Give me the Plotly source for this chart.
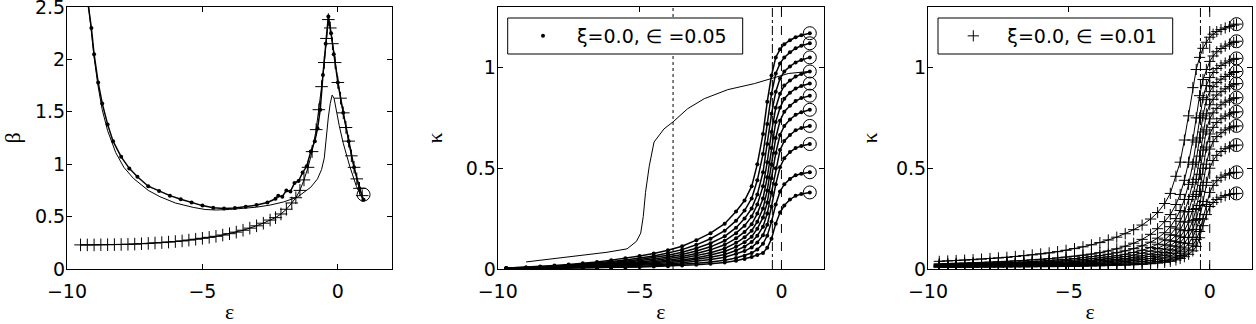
import plotly.graph_objects as go

# ---- left panel: beta against epsilon ----
EPS_DOTS = [-9.25, -9.1, -9.0, -8.85, -8.7, -8.5, -8.3, -8.0, -7.7, -7.4, -7.0, -6.6, -6.2,
            -5.8, -5.4, -5.0, -4.6, -4.2, -3.8, -3.4, -3.0, -2.6, -2.3, -2.2, -2.05, -1.9,
            -1.75, -1.6, -1.45, -1.3, -1.15, -1.0, -0.85, -0.75, -0.65, -0.55, -0.45, -0.35,
            -0.25, -0.15, 0.0, 0.2, 0.4, 0.6, 0.8, 0.95]
BETA_DOTS = [2.58, 2.3, 2.05, 1.78, 1.58, 1.38, 1.22, 1.07, 0.96, 0.88, 0.79, 0.745, 0.70,
             0.665, 0.635, 0.605, 0.585, 0.578, 0.583, 0.593, 0.61, 0.635, 0.67, 0.70, 0.69, 0.75,
             0.74, 0.82, 0.84, 0.92, 0.98, 1.12, 1.22, 1.34, 1.52, 1.85, 2.15, 2.41,
             2.25, 2.05, 1.78, 1.49, 1.22, 0.97, 0.77, 0.66]

EPS_SOLID = [-9.22, -9.1, -9.0, -8.85, -8.7, -8.5, -8.2, -7.9, -7.55, -7.0, -6.57, -6.0, -5.34,
             -4.9, -4.48, -4.0, -3.5, -3.0, -2.5, -2.0, -1.5, -1.0, -0.75, -0.6, -0.5, -0.42,
             -0.35, -0.28, -0.21, -0.14, -0.05, 0.05, 0.2, 0.44, 0.69, 0.93]
BETA_SOLID = [2.55, 2.25, 2.02, 1.74, 1.52, 1.32, 1.11, 0.97, 0.865, 0.75, 0.69, 0.63, 0.588,
              0.568, 0.563, 0.568, 0.579, 0.59, 0.61, 0.64, 0.685, 0.78, 0.86, 0.95, 1.06, 1.28,
              1.45, 1.58, 1.66, 1.63, 1.5, 1.37, 1.2, 0.98, 0.785, 0.66]

EPS_PLUS = [-9.5, -9.25, -9.0, -8.75, -8.5, -8.25, -8.0, -7.75, -7.5, -7.25, -7.0, -6.75, -6.5,
            -6.25, -6.0, -5.75, -5.5, -5.25, -5.0, -4.75, -4.5, -4.25, -4.0, -3.75, -3.5, -3.25,
            -3.0, -2.75, -2.5, -2.3, -2.1, -1.9, -1.7, -1.55, -1.4, -1.25, -1.1, -0.95, -0.8,
            -0.7, -0.6, -0.5, -0.42, -0.35, -0.28, -0.2, -0.1, 0.0, 0.1, 0.2, 0.3, 0.4, 0.5,
            0.6, 0.7, 0.8, 0.9]
BETA_PLUS = [0.23, 0.23, 0.23, 0.231, 0.232, 0.233, 0.234, 0.236, 0.238, 0.241, 0.244, 0.248, 0.252,
             0.257, 0.262, 0.268, 0.276, 0.284, 0.293, 0.302, 0.312, 0.324, 0.337, 0.352, 0.37, 0.39,
             0.412, 0.437, 0.467, 0.49, 0.525, 0.57, 0.63, 0.68, 0.75, 0.85, 0.97, 1.12, 1.33,
             1.52, 1.74, 1.97, 2.2, 2.38, 2.3, 2.15, 1.97, 1.78, 1.63, 1.49, 1.35, 1.22, 1.08,
             0.97, 0.86, 0.77, 0.70]

END_EPS_1 = [0.95]
END_BETA_1 = [0.71]

# ---- middle panel: kappa, xi=0.0, eps=0.05 (dots) ----
EPS_GRID_2 = [-9.7, -9.0, -8.5, -8.0, -7.5, -7.0, -6.5, -6.0, -5.5, -5.0, -4.5, -4.0, -3.5, -3.0,
              -2.5, -2.0, -1.6, -1.3, -1.05, -0.85, -0.65, -0.5, -0.35, -0.2, -0.05, 0.1, 0.3,
              0.5, 0.7, 1.0]
KAPPA_2 = [
    [0.004, 0.008, 0.012, 0.017, 0.022, 0.028, 0.035, 0.044, 0.053, 0.064, 0.077, 0.093, 0.113, 0.143,
     0.178, 0.225, 0.285, 0.34, 0.41, 0.52, 0.67, 0.83, 0.96, 1.05, 1.09, 1.115, 1.135, 1.15, 1.16, 1.17],
    [0.004, 0.007, 0.01, 0.014, 0.019, 0.024, 0.03, 0.037, 0.045, 0.054, 0.065, 0.079, 0.096, 0.12,
     0.15, 0.19, 0.24, 0.29, 0.35, 0.44, 0.57, 0.72, 0.87, 0.97, 1.02, 1.05, 1.075, 1.095, 1.108, 1.12],
    [0.004, 0.006, 0.009, 0.012, 0.016, 0.021, 0.026, 0.032, 0.039, 0.047, 0.056, 0.068, 0.083, 0.103,
     0.128, 0.162, 0.205, 0.25, 0.3, 0.37, 0.48, 0.62, 0.77, 0.88, 0.945, 0.98, 1.005, 1.025, 1.037, 1.05],
    [0.003, 0.005, 0.008, 0.011, 0.014, 0.018, 0.023, 0.028, 0.034, 0.041, 0.049, 0.059, 0.072, 0.089,
     0.11, 0.14, 0.178, 0.215, 0.26, 0.32, 0.41, 0.53, 0.68, 0.8, 0.87, 0.91, 0.935, 0.955, 0.968, 0.98],
    [0.003, 0.005, 0.007, 0.009, 0.012, 0.016, 0.02, 0.024, 0.029, 0.035, 0.042, 0.051, 0.062, 0.077,
     0.095, 0.12, 0.152, 0.184, 0.222, 0.275, 0.35, 0.455, 0.6, 0.73, 0.8, 0.845, 0.875, 0.895, 0.908, 0.92],
    [0.003, 0.004, 0.006, 0.008, 0.011, 0.014, 0.017, 0.021, 0.025, 0.03, 0.036, 0.044, 0.053, 0.066,
     0.081, 0.102, 0.13, 0.157, 0.19, 0.235, 0.3, 0.39, 0.52, 0.65, 0.735, 0.78, 0.81, 0.833, 0.848, 0.86],
    [0.003, 0.004, 0.005, 0.007, 0.009, 0.012, 0.015, 0.018, 0.021, 0.026, 0.031, 0.037, 0.045, 0.056,
     0.069, 0.087, 0.11, 0.133, 0.16, 0.2, 0.255, 0.33, 0.45, 0.575, 0.665, 0.71, 0.742, 0.765, 0.778, 0.79],
    [0.002, 0.003, 0.005, 0.006, 0.008, 0.01, 0.012, 0.015, 0.018, 0.022, 0.026, 0.031, 0.038, 0.047,
     0.058, 0.072, 0.092, 0.111, 0.134, 0.165, 0.21, 0.275, 0.38, 0.5, 0.59, 0.635, 0.665, 0.688, 0.7, 0.71],
    [0.002, 0.003, 0.004, 0.005, 0.006, 0.008, 0.01, 0.012, 0.015, 0.018, 0.021, 0.025, 0.031, 0.038,
     0.047, 0.058, 0.074, 0.089, 0.107, 0.132, 0.168, 0.22, 0.31, 0.42, 0.505, 0.55, 0.58, 0.6, 0.61, 0.62],
    [0.002, 0.002, 0.003, 0.004, 0.005, 0.006, 0.007, 0.009, 0.011, 0.013, 0.016, 0.019, 0.023, 0.028,
     0.035, 0.043, 0.055, 0.066, 0.079, 0.097, 0.125, 0.165, 0.235, 0.32, 0.385, 0.42, 0.447, 0.465, 0.473, 0.48],
    [0.001, 0.002, 0.002, 0.003, 0.004, 0.005, 0.006, 0.007, 0.008, 0.01, 0.012, 0.014, 0.017, 0.021,
     0.026, 0.032, 0.041, 0.05, 0.06, 0.07, 0.08, 0.105, 0.15, 0.225, 0.28, 0.315, 0.345, 0.363, 0.372, 0.38],
]
EPS_SOLID_2 = [-9.0, -7.45, -6.15, -5.44, -5.11, -4.96, -4.87, -4.79, -4.66, -4.49, -4.14, -3.82,
               -3.31, -2.72, -1.89, -0.95, -0.35, 0.24, 0.95]
KAPPA_SOLID_2 = [0.035, 0.062, 0.083, 0.100, 0.137, 0.178, 0.26, 0.38, 0.51, 0.63, 0.695, 0.73,
                 0.795, 0.845, 0.89, 0.92, 0.945, 0.97, 0.98]
VLINES_2 = [-3.82, -0.32, 0.0]
VDASH_2 = ["dot", "dashdot", "dash"]

# ---- right panel: kappa, xi=0.0, eps=0.01 (pluses) ----
EPS_GRID_3 = [-9.6, -9.3, -9.0, -8.7, -8.4, -8.1, -7.8, -7.5, -7.2, -6.9, -6.6, -6.3, -6.0, -5.7,
              -5.4, -5.1, -4.8, -4.5, -4.2, -3.9, -3.6, -3.3, -3.0, -2.7, -2.4, -2.1,
              -1.85, -1.6, -1.4, -1.2, -1.05, -0.9, -0.75, -0.6, -0.48, -0.36, -0.24, -0.12,
              0.0, 0.12, 0.25, 0.4, 0.55, 0.7, 0.85, 0.95]
KAPPA_3 = [
    [0.038, 0.040, 0.042, 0.044, 0.046, 0.049, 0.052, 0.055, 0.058, 0.062, 0.066, 0.070, 0.075, 0.080,
     0.086, 0.093, 0.101, 0.110, 0.120, 0.131, 0.144, 0.158, 0.175, 0.195, 0.218, 0.248,
     0.28, 0.325, 0.375, 0.46, 0.53, 0.64, 0.76, 0.90, 0.99, 1.05, 1.095, 1.125,
     1.15, 1.165, 1.178, 1.188, 1.196, 1.203, 1.21, 1.215],
    [0.026, 0.027, 0.028, 0.029, 0.031, 0.032, 0.034, 0.036, 0.038, 0.040, 0.042, 0.045, 0.048, 0.051,
     0.055, 0.059, 0.063, 0.068, 0.074, 0.081, 0.089, 0.100, 0.113, 0.128, 0.147, 0.172,
     0.20, 0.235, 0.27, 0.32, 0.37, 0.44, 0.53, 0.64, 0.75, 0.86, 0.94, 0.99,
     1.03, 1.057, 1.078, 1.094, 1.106, 1.116, 1.124, 1.13],
    [0.022, 0.023, 0.024, 0.025, 0.026, 0.027, 0.028, 0.030, 0.031, 0.033, 0.035, 0.037, 0.039, 0.042,
     0.045, 0.048, 0.052, 0.056, 0.061, 0.066, 0.073, 0.081, 0.090, 0.101, 0.115, 0.133,
     0.153, 0.18, 0.21, 0.25, 0.29, 0.345, 0.42, 0.52, 0.63, 0.75, 0.85, 0.91,
     0.95, 0.975, 0.995, 1.01, 1.022, 1.032, 1.04, 1.045],
    [0.020, 0.021, 0.021, 0.022, 0.023, 0.024, 0.025, 0.026, 0.027, 0.029, 0.030, 0.032, 0.034, 0.036,
     0.038, 0.041, 0.044, 0.047, 0.051, 0.055, 0.060, 0.066, 0.073, 0.082, 0.093, 0.107,
     0.123, 0.145, 0.17, 0.203, 0.237, 0.283, 0.345, 0.43, 0.53, 0.65, 0.76, 0.84,
     0.88, 0.905, 0.925, 0.942, 0.955, 0.966, 0.975, 0.98],
    [0.018, 0.018, 0.019, 0.020, 0.020, 0.021, 0.022, 0.023, 0.024, 0.025, 0.026, 0.028, 0.029, 0.031,
     0.033, 0.035, 0.037, 0.040, 0.043, 0.047, 0.051, 0.056, 0.062, 0.069, 0.078, 0.089,
     0.102, 0.12, 0.14, 0.167, 0.195, 0.233, 0.285, 0.36, 0.445, 0.56, 0.68, 0.77,
     0.815, 0.842, 0.863, 0.88, 0.894, 0.905, 0.914, 0.92],
    [0.016, 0.016, 0.017, 0.017, 0.018, 0.018, 0.019, 0.020, 0.021, 0.022, 0.023, 0.024, 0.025, 0.027,
     0.028, 0.030, 0.032, 0.034, 0.037, 0.040, 0.043, 0.047, 0.052, 0.058, 0.065, 0.074,
     0.085, 0.099, 0.115, 0.137, 0.16, 0.19, 0.233, 0.295, 0.37, 0.47, 0.59, 0.69,
     0.745, 0.775, 0.797, 0.815, 0.828, 0.838, 0.845, 0.85],
    [0.014, 0.014, 0.015, 0.015, 0.016, 0.016, 0.017, 0.017, 0.018, 0.019, 0.020, 0.021, 0.022, 0.023,
     0.024, 0.026, 0.027, 0.029, 0.031, 0.034, 0.037, 0.040, 0.044, 0.049, 0.055, 0.062,
     0.071, 0.082, 0.095, 0.113, 0.131, 0.156, 0.19, 0.24, 0.30, 0.385, 0.50, 0.605,
     0.67, 0.703, 0.727, 0.746, 0.759, 0.769, 0.776, 0.78],
    [0.012, 0.012, 0.013, 0.013, 0.013, 0.014, 0.014, 0.015, 0.015, 0.016, 0.017, 0.018, 0.018, 0.019,
     0.020, 0.022, 0.023, 0.024, 0.026, 0.028, 0.031, 0.034, 0.037, 0.041, 0.046, 0.052,
     0.059, 0.068, 0.079, 0.094, 0.109, 0.129, 0.157, 0.197, 0.245, 0.315, 0.415, 0.52,
     0.595, 0.632, 0.657, 0.676, 0.69, 0.70, 0.706, 0.71],
    [0.011, 0.011, 0.011, 0.012, 0.012, 0.012, 0.013, 0.013, 0.013, 0.014, 0.014, 0.015, 0.016, 0.016,
     0.017, 0.018, 0.019, 0.020, 0.022, 0.023, 0.025, 0.028, 0.030, 0.034, 0.037, 0.042,
     0.048, 0.055, 0.064, 0.076, 0.088, 0.104, 0.126, 0.158, 0.196, 0.25, 0.335, 0.43,
     0.50, 0.538, 0.564, 0.583, 0.597, 0.606, 0.612, 0.615],
    [0.010, 0.010, 0.010, 0.010, 0.011, 0.011, 0.011, 0.011, 0.012, 0.012, 0.012, 0.013, 0.013, 0.014,
     0.014, 0.015, 0.016, 0.017, 0.018, 0.019, 0.020, 0.022, 0.024, 0.026, 0.029, 0.033,
     0.037, 0.042, 0.049, 0.058, 0.067, 0.079, 0.095, 0.118, 0.146, 0.186, 0.248, 0.32,
     0.38, 0.415, 0.438, 0.455, 0.466, 0.473, 0.478, 0.48],
    [0.009, 0.009, 0.009, 0.009, 0.009, 0.010, 0.010, 0.010, 0.010, 0.011, 0.011, 0.011, 0.012, 0.012,
     0.012, 0.013, 0.013, 0.014, 0.015, 0.016, 0.017, 0.018, 0.019, 0.021, 0.023, 0.026,
     0.029, 0.033, 0.038, 0.045, 0.052, 0.061, 0.073, 0.09, 0.112, 0.155, 0.215, 0.27,
     0.31, 0.33, 0.345, 0.356, 0.364, 0.37, 0.373, 0.375],
]
VLINES_3 = [-0.33, 0.0]
VDASH_3 = ["dashdot", "dash"]

LABEL_2 = "\u03be=0.0, \u2208 =0.05"
LABEL_3 = "\u03be=0.0, \u2208 =0.01"

for kap in KAPPA_2:
    assert len(kap) == len(EPS_GRID_2)
for kap in KAPPA_3:
    assert len(kap) == len(EPS_GRID_3)

W, H = 1256, 324
FONT = "DejaVu Sans, Liberation Sans, sans-serif"
GREEK = "Liberation Serif, DejaVu Serif, serif"
Y_DOM = [1 - 269 / H, 1 - 7 / H]


def px_x(a, b):
    return [a / W, b / W]


def make_axis(domain, rng, tickvals, anchor, title, standoff, is_x):
    return dict(
        domain=domain, range=rng, tickvals=tickvals, anchor=anchor, automargin=False,
        showline=True, linecolor="black", linewidth=1, mirror="ticks",
        ticks="inside", ticklen=5, tickcolor="black", showgrid=False, zeroline=False,
        ticklabeloverflow="allow", ticklabelstandoff=5 if is_x else -3,
        tickfont=dict(family=FONT, size=19, color="black"),
        title=dict(text=title, font=dict(family=GREEK, size=22, color="black"), standoff=standoff),
    )


def circle_marker():
    return dict(symbol="circle-open", size=13, color="black", line=dict(width=1, color="black"))


def legend_box(x0, x1):
    # frame drawn behind the legend entry, like MATLAB's boxed legend
    return dict(type="rect", xref="paper", yref="paper", x0=x0 / W, x1=x1 / W,
                y0=1 - 54 / H, y1=1 - 18 / H, layer="above",
                line=dict(color="black", width=1), fillcolor="white")


fig = go.Figure()

# left panel
fig.add_trace(go.Scatter(x=EPS_SOLID, y=BETA_SOLID, mode="lines", line=dict(color="black", width=1),
                         xaxis="x", yaxis="y", showlegend=False))
fig.add_trace(go.Scatter(x=EPS_DOTS, y=BETA_DOTS, mode="lines+markers",
                         line=dict(color="black", width=1.5), marker=dict(size=4, color="black"),
                         xaxis="x", yaxis="y", showlegend=False))
fig.add_trace(go.Scatter(x=EPS_PLUS, y=BETA_PLUS, mode="lines+markers",
                         line=dict(color="black", width=1),
                         marker=dict(symbol="cross-thin", size=9, line=dict(color="black", width=1)),
                         xaxis="x", yaxis="y", showlegend=False))
fig.add_trace(go.Scatter(x=END_EPS_1, y=END_BETA_1, mode="markers", marker=circle_marker(),
                         xaxis="x", yaxis="y", showlegend=False))

# middle panel
fig.add_trace(go.Scatter(x=EPS_SOLID_2, y=KAPPA_SOLID_2, mode="lines", line=dict(color="black", width=1),
                         xaxis="x2", yaxis="y2", showlegend=False))
for i, kap in enumerate(KAPPA_2):
    fig.add_trace(go.Scatter(x=EPS_GRID_2, y=kap, mode="lines", line=dict(color="black", width=1.5),
                             xaxis="x2", yaxis="y2", showlegend=False))
    fig.add_trace(go.Scatter(x=EPS_GRID_2, y=kap, mode="markers", name=LABEL_2,
                             marker=dict(size=4, color="black"),
                             xaxis="x2", yaxis="y2", showlegend=(i == 0), legend="legend"))
fig.add_trace(go.Scatter(x=[EPS_GRID_2[-1]] * len(KAPPA_2), y=[k[-1] for k in KAPPA_2], mode="markers",
                         marker=circle_marker(), xaxis="x2", yaxis="y2", showlegend=False))

# right panel
for i, kap in enumerate(KAPPA_3):
    fig.add_trace(go.Scatter(x=EPS_GRID_3, y=kap, mode="lines", line=dict(color="black", width=1),
                             xaxis="x3", yaxis="y3", showlegend=False))
    fig.add_trace(go.Scatter(x=EPS_GRID_3, y=kap, mode="markers", name=LABEL_3,
                             marker=dict(symbol="cross-thin", size=8, line=dict(color="black", width=1)),
                             xaxis="x3", yaxis="y3", showlegend=(i == 0), legend="legend2"))
fig.add_trace(go.Scatter(x=[EPS_GRID_3[-1]] * len(KAPPA_3), y=[k[-1] for k in KAPPA_3], mode="markers",
                         marker=circle_marker(), xaxis="x3", yaxis="y3", showlegend=False))

shapes = []
for xv, dash in zip(VLINES_2, VDASH_2):
    shapes.append(dict(type="line", xref="x2", yref="y2 domain", x0=xv, x1=xv, y0=0, y1=1,
                       line=dict(color="black", width=1, dash=dash)))
for xv, dash in zip(VLINES_3, VDASH_3):
    shapes.append(dict(type="line", xref="x3", yref="y3 domain", x0=xv, x1=xv, y0=0, y1=1,
                       line=dict(color="black", width=1, dash=dash)))
shapes.append(legend_box(507.7, 742.7))
shapes.append(legend_box(938, 1172.7))

legend_style = dict(xanchor="left", yanchor="middle", y=1 - 36 / H, borderwidth=0,
                    bgcolor="rgba(0,0,0,0)",
                    font=dict(family=FONT, size=19, color="black"), itemwidth=58)

fig.update_layout(
    width=W, height=H, margin=dict(l=0, r=0, t=0, b=0),
    paper_bgcolor="white", plot_bgcolor="white",
    xaxis=make_axis(px_x(67, 392), [-10, 2], [-10, -5, 0], "y", "\u03b5", 11, True),
    yaxis=make_axis(Y_DOM, [0, 2.5], [0, 0.5, 1, 1.5, 2, 2.5], "x", "\u03b2", 11, False),
    xaxis2=make_axis(px_x(497.7, 824), [-10, 1.5], [-10, -5, 0], "y2", "\u03b5", 11, True),
    yaxis2=make_axis(Y_DOM, [0, 1.3], [0, 0.5, 1], "x2", "\u03ba", 16, False),
    xaxis3=make_axis(px_x(928, 1252), [-10, 1.5], [-10, -5, 0], "y3", "\u03b5", 11, True),
    yaxis3=make_axis(Y_DOM, [0, 1.3], [0, 0.5, 1], "x3", "\u03ba", 12, False),
    legend=dict(x=509 / W, **legend_style),
    legend2=dict(x=939.3 / W, **legend_style),
    shapes=shapes,
)

# the page body has a default 8px margin; drop it so the figure sits at the window corner
fig.write_html("out.html", config={"displayModeBar": False},
               post_script="document.body.style.margin = '0px';")
